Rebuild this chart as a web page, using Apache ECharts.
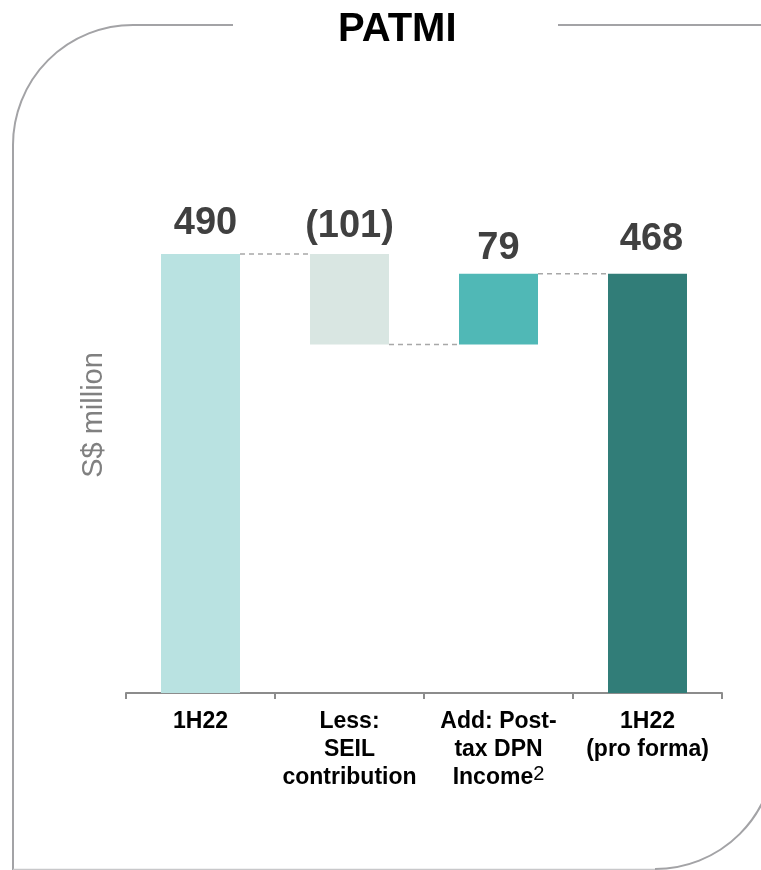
<!DOCTYPE html>
<html>
<head>
<meta charset="utf-8">
<style>
  html, body { margin: 0; padding: 0; background: #fff; }
  #chart { width: 761px; height: 870px; }
</style>
<script src="https://cdn.jsdelivr.net/npm/echarts@6/dist/echarts.min.js"></script>
</head>
<body>
<div id="chart"></div>
<script>
// PATMI bridge, S$ million
const categories = ['1H22', 'Less:\nSEIL\ncontribution', 'Add: Post-\ntax DPN\nIncome', '1H22\n(pro forma)'];
const footnotes = ['', '', '2', ''];
const values = [490, -101, 79, 468];
const isTotal = [true, false, false, true];

const barColors = ['#b9e2e1', '#d9e6e2', '#50b8b6', '#317d78'];
const labelGaps = [11, 8, 6, 15];
const labelShift = [5, 0, 0, 4];
const FONT = '"Liberation Sans", Arial, Helvetica, sans-serif';

// Waterfall geometry: invisible base + visible segment, and running level after each step
const base = [];
const span = [];
const levels = [];
let running = 0;
values.forEach((v, i) => {
  if (isTotal[i]) {
    running = v;
    base.push(0);
    span.push(v);
  } else {
    const lo = Math.min(running, running + v);
    base.push(lo);
    span.push(Math.abs(v));
    running += v;
  }
  levels.push(running);
});
// connector from the end of each bar to the start of the next one
const connectors = [];
for (let i = 0; i < values.length - 1; i++) {
  connectors.push([i, levels[i]]);
}

const fmtValue = v => (v < 0 ? '(' + Math.abs(v) + ')' : String(v));

const chart = echarts.init(document.getElementById('chart'), null, { renderer: 'canvas' });

const BAR_W = 79;
const FRAME = { stroke: '#a3a3a6', lineWidth: 2, fill: null };

chart.setOption({
  animation: false,
  backgroundColor: '#ffffff',
  title: {
    text: 'PATMI',
    left: 333,
    top: 5,
    textStyle: { fontFamily: FONT, fontSize: 40, fontWeight: 'bold', color: '#000' }
  },
  grid: { left: 126, right: 39, top: 245, bottom: 177, containLabel: false },
  xAxis: {
    type: 'category',
    data: categories,
    axisLine: { show: true, lineStyle: { color: '#8c8c8c', width: 2 } },
    axisTick: { show: true, length: 6, lineStyle: { color: '#8c8c8c', width: 2 } },
    axisLabel: {
      interval: 0,
      margin: 15,
      formatter: (val, idx) => {
        const fn = footnotes[idx];
        return '{c|' + val + '}' + (fn ? '{sup|' + fn + '}' : '');
      },
      rich: {
        c: { fontFamily: FONT, fontSize: 23, fontWeight: 'bold', color: '#000', lineHeight: 28, align: 'center' },
        sup: { fontFamily: FONT, fontSize: 20, fontWeight: 'normal', color: '#000', lineHeight: 28, verticalAlign: 'top', padding: [0, 0, 6, 0] }
      }
    }
  },
  yAxis: {
    type: 'value',
    min: 0,
    max: 500,
    show: false
  },
  graphic: [
    // rounded panel frame
    { type: 'line', shape: { x1: 133, y1: 25, x2: 233, y2: 25 }, style: FRAME },
    { type: 'arc', shape: { cx: 133, cy: 145, r: 120, startAngle: Math.PI, endAngle: Math.PI * 1.5, clockwise: true }, style: FRAME },
    { type: 'line', shape: { x1: 13, y1: 145, x2: 13, y2: 870 }, style: FRAME },
    { type: 'line', shape: { x1: 13, y1: 869.5, x2: 655, y2: 869.5 }, style: { stroke: '#c8c8ca', lineWidth: 1.5 } },
    { type: 'arc', shape: { cx: 655, cy: 749, r: 120, startAngle: 0, endAngle: Math.PI / 2, clockwise: true }, style: FRAME },
    { type: 'line', shape: { x1: 558, y1: 25, x2: 761, y2: 25 }, style: FRAME },
    {
      type: 'text',
      x: 94,
      y: 415,
      rotation: Math.PI / 2,
      style: {
        text: 'S$ million',
        fontFamily: FONT,
        fontSize: 29,
        fill: '#808080',
        align: 'center',
        verticalAlign: 'middle'
      }
    }
  ],
  series: [
    {
      type: 'bar',
      stack: 'wf',
      barWidth: BAR_W,
      itemStyle: { color: 'transparent' },
      emphasis: { disabled: true },
      data: base
    },
    {
      type: 'bar',
      stack: 'wf',
      barWidth: BAR_W,
      emphasis: { disabled: true },
      data: span.map((v, i) => ({
        value: v,
        itemStyle: { color: barColors[i] },
        label: {
          show: true,
          position: 'top',
          distance: labelGaps[i],
          offset: [labelShift[i], 0],
          formatter: () => fmtValue(values[i]),
          fontFamily: FONT,
          fontSize: 38,
          fontWeight: 'bold',
          color: '#404040'
        }
      }))
    },
    {
      type: 'custom',
      z: 5,
      silent: true,
      data: connectors,
      renderItem: (params, api) => {
        const idx = api.value(0);
        const lvl = api.value(1);
        const p = api.coord([idx, lvl]);
        const band = api.size([1, 0])[0];
        return {
          type: 'line',
          shape: { x1: p[0] + BAR_W / 2, y1: p[1], x2: p[0] + band - BAR_W / 2, y2: p[1] },
          style: { stroke: '#a8a8a8', lineWidth: 1.5, lineDash: [5, 4] }
        };
      }
    }
  ]
});
</script>
</body>
</html>
